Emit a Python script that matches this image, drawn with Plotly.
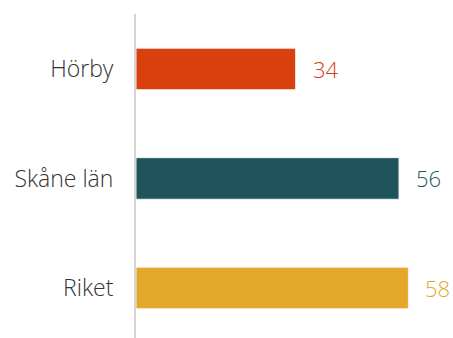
import plotly.graph_objects as go

categories = ["Hörby", "Skåne län", "Riket"]
values = [34, 56, 58]
colors = ["#D8400E", "#1F545C", "#E3A829"]

fig = go.Figure()
fig.add_trace(go.Bar(
    y=categories, x=values, orientation="h",
    marker=dict(color=colors, line=dict(color="#f2f2f2", width=1)),
    width=0.38, hoverinfo="skip",
))
for c, v, col in zip(categories, values, colors):
    fig.add_annotation(x=v, y=c, text=str(v), showarrow=False, xanchor="left",
                       xshift=15, font=dict(color=col, size=22, family="Open Sans", weight=300))

fig.update_layout(
    width=453, height=338,
    margin=dict(l=136, r=0, t=14, b=0),
    paper_bgcolor="white", plot_bgcolor="white",
    showlegend=False,
    xaxis=dict(range=[0, 67.5], visible=False),
    yaxis=dict(range=[2.457, -0.502], showline=True, linecolor="#d4d4d4", linewidth=2,
               showgrid=False, ticks="", ticklabelstandoff=16, automargin=False,
               tickfont=dict(size=23, color="#333333", family="Open Sans", weight=300)),
)
fig.write_html("out.html", config={"displayModeBar": False},
               post_script="document.body.style.margin='0';")
